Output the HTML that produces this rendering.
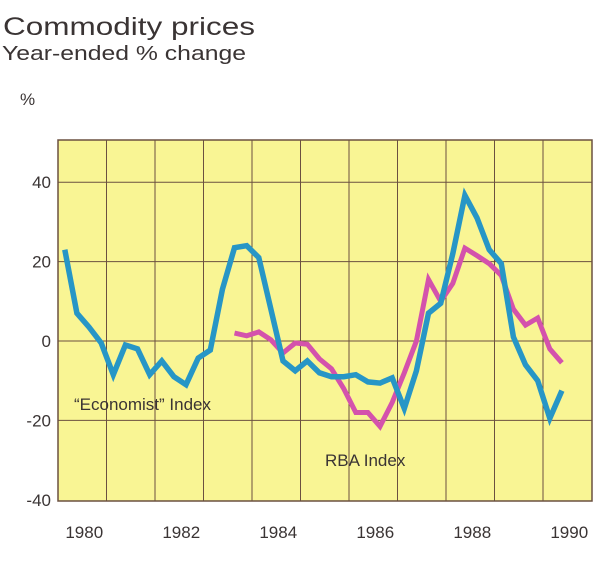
<!DOCTYPE html>
<html><head><meta charset="utf-8"><style>
body{margin:0;background:#fff;width:600px;height:565px;overflow:hidden}
svg text{font-family:"Liberation Sans",sans-serif;fill:#3a3434}
</style></head><body>
<svg width="600" height="565">
<text x="3" y="35" font-size="25" textLength="252" lengthAdjust="spacingAndGlyphs">Commodity prices</text>
<text x="2" y="60" font-size="20" textLength="244" lengthAdjust="spacingAndGlyphs">Year-ended % change</text>
<text x="20" y="105" font-size="17">%</text>
<g id="plot"></g>
</svg>
<script>
const years=[1980,1982,1984,1986,1988,1990];
const yTicks=[40,20,0,-20,-40];
const economist=[23,7,3.5,-0.5,-8.5,-1,-2,-8.5,-5,-9,-11,-4.3,-2.3,13,23.5,24,21,8,-5,-7.5,-5,-8,-9,-9,-8.5,-10.3,-10.6,-9.3,-17,-7.5,7,9.5,22,36.7,31,23,19.5,1,-6,-10,-19.5,-12.5];
const rbaStart=14;
const rba=[2,1.3,2.3,0.3,-3,-0.5,-0.8,-4.5,-7,-12,-18,-18,-21.5,-15.5,-8,0,15.5,10,14.5,23.4,21.5,19.5,16.5,8,4,5.8,-2,-5.5];
const L=58,R=592,T=140,B=501,NS='http://www.w3.org/2000/svg';
const x=t=>L+(t-1980)*48.5;
const y=v=>341-v*3.97;
const tq=i=>1980.14+i*0.25;
const g=document.getElementById('plot');
function mk(tag,a){const e=document.createElementNS(NS,tag);for(const k in a)e.setAttribute(k,a[k]);g.appendChild(e);return e;}
const bg=mk('rect',{x:L,y:T,width:R-L,height:B-T,fill:'#f9f594',stroke:'#6b5040','stroke-width':1.5});


for(let yr=1981;yr<=1990;yr++){const l=mk('line',{x1:x(yr),x2:x(yr),y1:T,y2:B,stroke:'#6b5040','stroke-width':1});

}
yTicks.forEach(v=>{if(v<=40&&v>-40){const l=mk('line',{x1:L,x2:R,y1:y(v),y2:y(v),stroke:'#6b5040','stroke-width':1});

}
const t=mk('text',{x:51,y:y(v)+6,'font-size':17,'text-anchor':'end'});t.textContent=v;

});
years.forEach(yr=>{const t=mk('text',{x:x(yr+0.5)+2,y:538,'font-size':17,'text-anchor':'middle'});t.textContent=yr;

});
const pr=rba.map((v,i)=>x(tq(i+rbaStart)).toFixed(1)+','+y(v).toFixed(1)).join(' ');
const p1=mk('polyline',{points:pr,fill:'none',stroke:'#d452ac','stroke-width':5,'stroke-linejoin':'miter'});


const pe=economist.map((v,i)=>x(tq(i)).toFixed(1)+','+y(v).toFixed(1)).join(' ');
const p2=mk('polyline',{points:pe,fill:'none',stroke:'#2796c6','stroke-width':5.5,'stroke-linejoin':'miter'});


const a=mk('text',{x:74,y:410,'font-size':17});a.textContent='\u201cEconomist\u201d Index';


const b=mk('text',{x:325,y:466,'font-size':17});b.textContent='RBA Index';


</script>
</body></html>
